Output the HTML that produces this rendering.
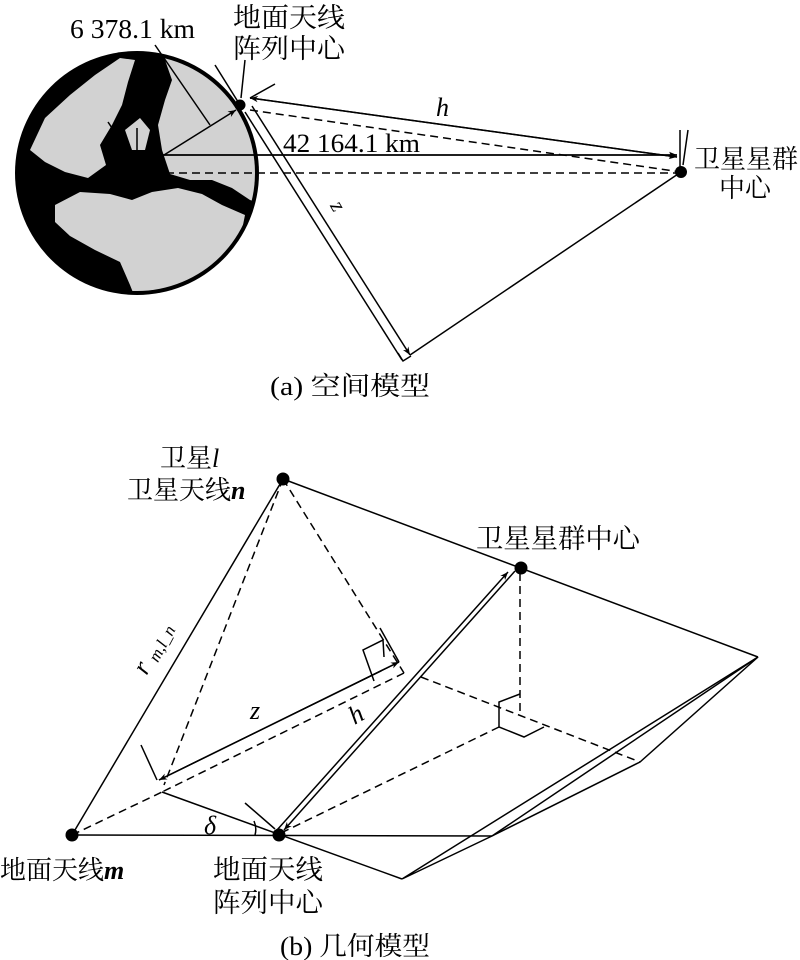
<!DOCTYPE html>
<html><head><meta charset="utf-8"><style>
html,body{margin:0;padding:0;background:#fff}
svg{display:block}
text{font-family:"Liberation Serif","Noto Serif CJK SC","Noto Sans CJK SC",serif;fill:#000}
</style></head><body>
<svg width="800" height="960" viewBox="0 0 800 960" xmlns="http://www.w3.org/2000/svg">
<defs>
<marker id="a" viewBox="0 0 10 10" refX="10" refY="5" markerWidth="10" markerHeight="8" orient="auto" markerUnits="userSpaceOnUse"><path d="M0,1 L10,5 L0,9 L3,5 z" fill="#000"/></marker>
</defs>
<!-- globe -->
<circle cx="137" cy="173" r="122" fill="#000"/>
<clipPath id="g"><circle cx="137" cy="173" r="118"/></clipPath>
<g clip-path="url(#g)" fill="#d2d2d2">
<path d="M165,40 L280,40 L280,210 L250,200 L232,188 L212,180 L190,180 L170,174 L162,150 L158,125 L165,100 L172,80 L165,60 z"/>
<path d="M55,205 L80,192 L110,194 L132,200 L152,192 L178,188 L202,194 L222,205 L245,215 L240,240 L220,262 L205,280 L180,305 L140,310 L130,285 L120,262 L95,250 L70,236 L55,222 z"/>
<path d="M30,150 L45,118 L70,95 L95,75 L120,58 L135,60 L128,82 L122,105 L112,125 L100,145 L106,165 L88,178 L65,172 L45,162 z"/>
<path d="M125,130 L140,118 L150,130 L145,150 L132,150 z"/>
</g>
<g stroke="#000" stroke-width="1.5" fill="none">
<line x1="155" y1="45" x2="210" y2="125"/>
<line x1="140" y1="170" x2="236" y2="110" marker-end="url(#a)"/>
<line x1="140" y1="170" x2="108" y2="122"/>
<line x1="137" y1="170" x2="137" y2="128"/>
<line x1="677" y1="155" x2="140" y2="155" marker-end="url(#a)"/>
<line x1="140" y1="155" x2="677" y2="155" marker-end="url(#a)"/>
<line x1="140" y1="173" x2="681" y2="173" stroke-dasharray="8,5"/>
<line x1="250" y1="110" x2="681" y2="172" stroke-dasharray="8,5"/>
<line x1="250" y1="98" x2="677" y2="157" marker-end="url(#a)"/>
<line x1="677" y1="157" x2="250" y2="98" marker-end="url(#a)"/>
<line x1="275" y1="84" x2="250" y2="98"/>
<line x1="215" y1="65" x2="240" y2="105"/>
<line x1="245" y1="60" x2="241" y2="98"/>
<line x1="245" y1="112" x2="402" y2="360"/>
<line x1="252" y1="106" x2="410" y2="355" marker-end="url(#a)"/>
<path d="M398,353 L403,361 L411,356"/>
<line x1="681" y1="172" x2="410" y2="355"/>
<line x1="680" y1="130" x2="680" y2="168"/>
<line x1="688" y1="130" x2="683" y2="165"/>
</g>
<circle cx="240" cy="105" r="5.5" fill="#000"/>
<circle cx="681" cy="172" r="6" fill="#000"/>
<text x="70" y="38" font-size="27" textLength="125" lengthAdjust="spacingAndGlyphs">6 378.1 km</text>
<text x="233" y="27" font-size="27" textLength="112" lengthAdjust="spacingAndGlyphs">地面天线</text>
<text x="233" y="58" font-size="27" textLength="112" lengthAdjust="spacingAndGlyphs">阵列中心</text>
<text x="436" y="116" font-size="26" font-style="italic">h</text>
<text x="283" y="152" font-size="26" textLength="137" lengthAdjust="spacingAndGlyphs">42 164.1 km</text>
<text x="694" y="168" font-size="26" textLength="104" lengthAdjust="spacingAndGlyphs">卫星星群</text>
<text x="719" y="197" font-size="26" textLength="52" lengthAdjust="spacingAndGlyphs">中心</text>
<text x="332" y="214" font-size="22" font-style="italic" transform="rotate(60 338 208)">z</text>
<text x="270" y="395" font-size="26" textLength="160" lengthAdjust="spacingAndGlyphs">(a) 空间模型</text>

<!-- bottom -->
<g stroke="#000" stroke-width="1.5" fill="none">
<line x1="72" y1="835" x2="283" y2="479"/>
<line x1="283" y1="479" x2="758" y2="657"/>
<line x1="72" y1="835" x2="492" y2="836"/>
<line x1="162" y1="792" x2="402" y2="879"/>
<path d="M402,879 L492,836 L640,762 L758,657 L402,879"/>
<line x1="758" y1="657" x2="492" y2="836"/>
<g stroke-dasharray="8,5">
<line x1="72" y1="835" x2="162" y2="792"/>
<line x1="283" y1="479" x2="164" y2="785"/>
<line x1="283" y1="479" x2="404" y2="673"/>
<line x1="404" y1="673" x2="162" y2="792"/>
<line x1="421" y1="677" x2="640" y2="762"/>
<line x1="499" y1="727" x2="281" y2="833"/>
<line x1="520" y1="573" x2="520" y2="712"/>
</g>
<line x1="399" y1="662" x2="159" y2="780" marker-end="url(#a)"/>
<line x1="159" y1="780" x2="399" y2="662" marker-end="url(#a)"/>
<path d="M374,681 L363,650 L383,640 L384,657"/>
<line x1="380" y1="628" x2="399" y2="662"/>
<line x1="141" y1="745" x2="157" y2="780"/>
<line x1="277" y1="830" x2="508" y2="572" marker-end="url(#a)"/>
<line x1="515" y1="571" x2="284" y2="830" marker-end="url(#a)"/>
<line x1="245" y1="803" x2="275" y2="829"/>
<path d="M520,694 L499,702 L499,727 L524,737 L544,727"/>
<path d="M254,821 Q257,828 255,835"/>
</g>
<circle cx="283" cy="479" r="6.5" fill="#000"/>
<circle cx="521" cy="568" r="6.5" fill="#000"/>
<circle cx="72" cy="835" r="6.5" fill="#000"/>
<circle cx="279" cy="835" r="6.5" fill="#000"/>
<text x="160" y="467" font-size="26">卫星<tspan font-style="italic">l</tspan></text>
<text x="127" y="499" font-size="26">卫星天线<tspan font-style="italic" font-weight="bold">n</tspan></text>
<text x="476" y="548" font-size="27" textLength="164" lengthAdjust="spacingAndGlyphs">卫星星群中心</text>
<g transform="rotate(-62 160 640)"><text x="122" y="645" font-size="26" font-style="italic">r <tspan font-size="17" dy="4">m,l_n</tspan></text></g>
<text x="250" y="719" font-size="26" font-style="italic">z</text>
<text x="350" y="722" font-size="26" font-style="italic" transform="rotate(-30 358 715)">h</text>
<text x="204" y="834" font-size="26" font-style="italic">δ</text>
<text x="0" y="879" font-size="26">地面天线<tspan font-style="italic" font-weight="bold">m</tspan></text>
<text x="213" y="879" font-size="27" textLength="110" lengthAdjust="spacingAndGlyphs">地面天线</text>
<text x="213" y="912" font-size="27" textLength="110" lengthAdjust="spacingAndGlyphs">阵列中心</text>
<text x="280" y="955" font-size="26" textLength="150" lengthAdjust="spacingAndGlyphs">(b) 几何模型</text>
</svg>
</body></html>
